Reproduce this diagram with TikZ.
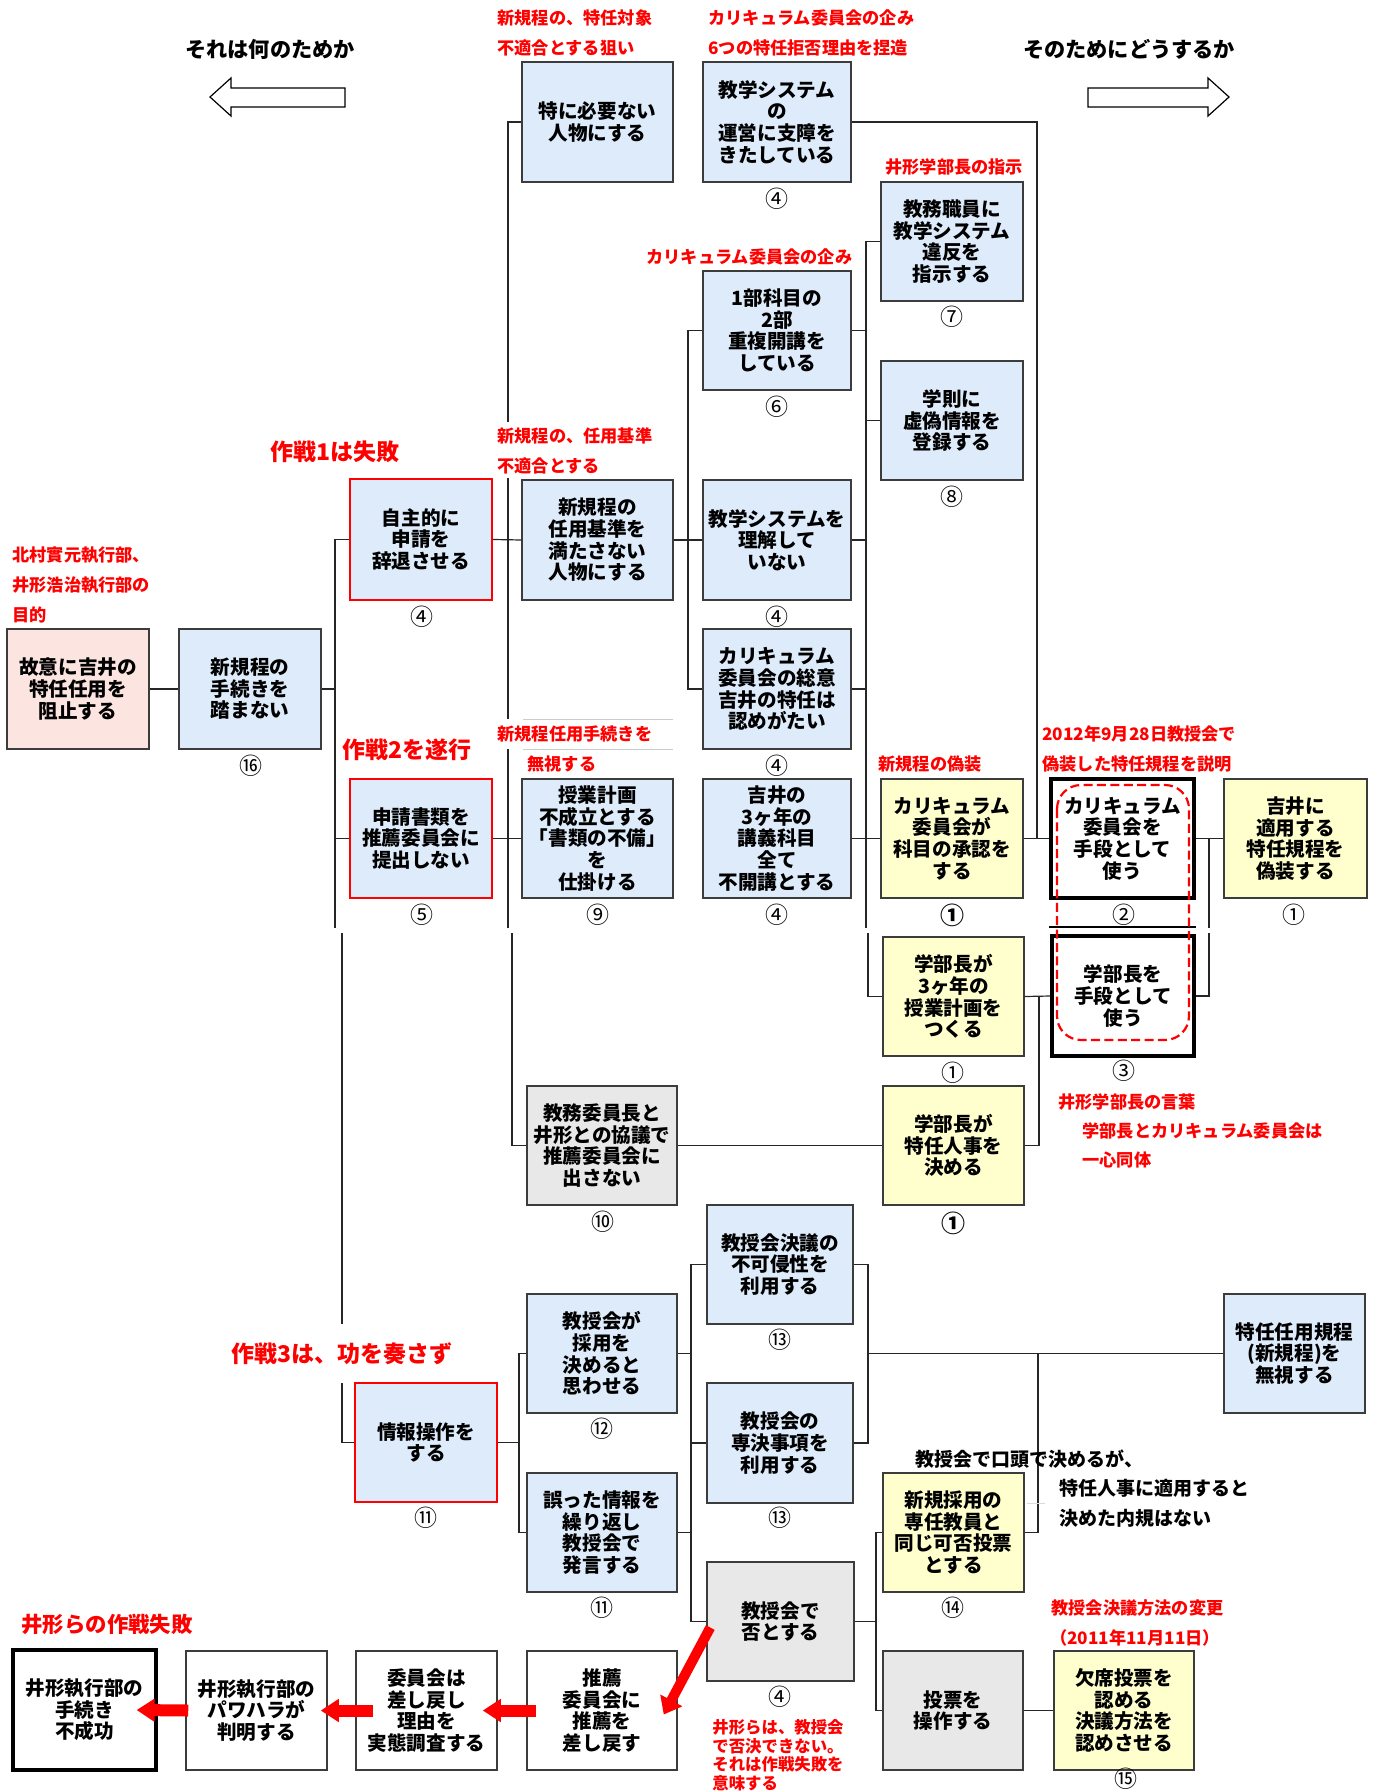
\documentclass[tikz,border=0pt]{standalone}
\usepackage{fontspec}
\setmainfont{Noto Sans CJK JP}
\usetikzlibrary{arrows.meta}
\definecolor{bluefill}{RGB}{221,235,250}
\definecolor{yelfill}{RGB}{255,255,205}
\definecolor{pinkfill}{RGB}{252,228,225}
\definecolor{grayfill}{RGB}{232,232,232}
\definecolor{edgec}{RGB}{60,60,60}
\newcommand\mybox[7]{\node[#1, minimum width={(#5-#3)*0.5pt}, minimum height={(#6-#4)*0.5pt}] (#2) at ({(#3+#5)/2},{(#4+#6)/2}) {#7};}
\tikzset{
  box/.style={draw=edgec, line width=0.75pt, align=center, inner sep=0pt,
    font=\fontsize{9.8}{10.8}\selectfont\bfseries},
  bluebox/.style={box, fill=bluefill},
  redbox/.style={box, fill=bluefill, draw=red, line width=1.2pt},
  yelbox/.style={box, fill=yelfill},
  pinkbox/.style={box, fill=pinkfill},
  graybox/.style={box, fill=grayfill},
  whitebox/.style={box, fill=white},
  thickbox/.style={box, fill=white, draw=black, line width=1.6pt},
  conn/.style={draw=black!85, line width=0.6pt},
  num/.style={inner sep=0pt, font=\fontsize{11.5}{12}\selectfont},
  bnum/.style={inner sep=0pt, font=\fontsize{12}{12}\selectfont\bfseries},
  note/.style={text=red, anchor=west, inner sep=0pt, font=\fontsize{8.6}{9}\selectfont\bfseries},
  title/.style={text=red, inner sep=0pt, font=\fontsize{11.5}{12}\selectfont\bfseries},
  head/.style={inner sep=0pt, font=\fontsize{10.6}{11}\selectfont\bfseries},
  btxt/.style={anchor=west, inner sep=0pt, font=\fontsize{9.5}{10}\selectfont\bfseries},
  redarrow/.style={draw=red, line width=6pt, -{Triangle[length=9pt,width=11pt]}},
}
\begin{document}
\begin{tikzpicture}[x=0.5pt,y=-0.5pt]
\useasboundingbox (0,0) rectangle (1377,1791);

% ---------------- boxes ----------------
\mybox{bluebox}{A}{522}{62}{673}{182}{特に必要ない\\人物にする}
\mybox{bluebox}{B}{703}{62}{851}{182}{教学システム\\の\\運営に支障を\\きたしている}
\mybox{bluebox}{C}{881}{182}{1023}{301}{教務職員に\\教学システム\\違反を\\指示する}
\mybox{bluebox}{D}{703}{271}{851}{390}{1部科目の\\2部\\重複開講を\\している}
\mybox{bluebox}{E}{881}{361}{1023}{480}{学則に\\虚偽情報を\\登録する}
\mybox{redbox}{S}{350}{479}{492}{600}{自主的に\\申請を\\辞退させる}
\mybox{bluebox}{T}{522}{480}{673}{600}{新規程の\\任用基準を\\満たさない\\人物にする}
\mybox{bluebox}{F}{703}{480}{851}{600}{教学システムを\\理解して\\いない}
\mybox{pinkbox}{U}{7}{629}{149}{749}{故意に吉井の\\特任任用を\\阻止する}
\mybox{bluebox}{V}{179}{629}{321}{749}{新規程の\\手続きを\\踏まない}
\mybox{bluebox}{G}{703}{629}{851}{749}{カリキュラム\\委員会の総意\\吉井の特任は\\認めがたい}
\mybox{redbox}{Q}{350}{779}{492}{898}{申請書類を\\推薦委員会に\\提出しない}
\mybox{bluebox}{R}{522}{779}{673}{898}{授業計画\\不成立とする\\「書類の不備」\\を\\仕掛ける}
\mybox{bluebox}{H}{703}{779}{851}{898}{吉井の\\3ヶ年の\\講義科目\\全て\\不開講とする}
\mybox{yelbox}{I}{881}{779}{1023}{898}{カリキュラム\\委員会が\\科目の承認を\\する}
\mybox{thickbox}{J}{1051}{779}{1194}{898}{カリキュラム\\委員会を\\手段として\\使う}
\mybox{yelbox}{K}{1224}{779}{1367}{898}{吉井に\\適用する\\特任規程を\\偽装する}
\mybox{yelbox}{L}{883}{937}{1024}{1056}{学部長が\\3ヶ年の\\授業計画を\\つくる}
\mybox{thickbox}{M}{1052}{936}{1194}{1056}{学部長を\\手段として\\使う}
\mybox{graybox}{O}{527}{1086}{677}{1205}{教務委員長と\\井形との協議で\\推薦委員会に\\出さない}
\mybox{yelbox}{N}{883}{1086}{1024}{1205}{学部長が\\特任人事を\\決める}
\mybox{bluebox}{P}{707}{1205}{853}{1324}{教授会決議の\\不可侵性を\\利用する}
\mybox{bluebox}{X}{527}{1294}{677}{1413}{教授会が\\採用を\\決めると\\思わせる}
\mybox{bluebox}{AA}{1224}{1294}{1365}{1413}{特任任用規程\\(新規程)を\\無視する}
\mybox{redbox}{W}{355}{1383}{497}{1502}{情報操作を\\する}
\mybox{bluebox}{Z}{707}{1383}{853}{1503}{教授会の\\専決事項を\\利用する}
\mybox{bluebox}{Y}{527}{1473}{677}{1592}{誤った情報を\\繰り返し\\教授会で\\発言する}
\mybox{yelbox}{BB}{883}{1473}{1024}{1592}{新規採用の\\専任教員と\\同じ可否投票\\とする}
\mybox{graybox}{CC}{707}{1562}{854}{1681}{教授会で\\否とする}
\mybox{graybox}{DD}{883}{1651}{1023}{1770}{投票を\\操作する}
\mybox{yelbox}{EE}{1054}{1651}{1194}{1770}{欠席投票を\\認める\\決議方法を\\認めさせる}
\mybox{whitebox}{FF}{527}{1651}{677}{1770}{推薦\\委員会に\\推薦を\\差し戻す}
\mybox{whitebox}{GG}{356}{1651}{497}{1770}{委員会は\\差し戻し\\理由を\\実態調査する}
\mybox{whitebox}{HH}{186}{1651}{327}{1770}{井形執行部の\\パワハラが\\判明する}
\mybox{thickbox}{II}{13}{1650}{156}{1770}{井形執行部の\\手続き\\不成功}

% ---------------- bus coordinates ----------------
\coordinate (k1) at (335,0);  \coordinate (k1b) at (342,0);
\coordinate (k2) at (508,0);  \coordinate (k2b) at (512,0);
\coordinate (k3) at (688,0);
\coordinate (k4) at (866,0);  \coordinate (k4b) at (868,0);
\coordinate (k5) at (1037,0);
\coordinate (k6) at (1209,0);
\coordinate (k7) at (1039,0);
\coordinate (k8) at (519,0);
\coordinate (k9) at (691,0);
\coordinate (k10) at (868,0);
\coordinate (k11) at (1038,0);
\coordinate (k12) at (876,0);
\coordinate (brk1) at (0,928); \coordinate (brk2) at (0,933);
\coordinate (ga1) at (0,422); \coordinate (ga2) at (0,478);
\coordinate (gb1) at (0,719); \coordinate (gb2) at (0,749);
\coordinate (gc1) at (0,1324); \coordinate (gc2) at (0,1383);

% ---------------- connectors ----------------
\draw[conn] (U.east) -- (V.west);
\draw[conn] (V.east) -- (V.east -| k1);
\draw[conn] (S.west) -| (k1 |- brk1);
\draw[conn] (Q.west) -- (Q.west -| k1);
\draw[conn] (k1b |- brk2) -- (k1b |- gc1);
\draw[conn] (k1b |- gc2) |- (W.west);

\draw[conn] (A.west) -| (k2 |- ga1);
\draw[conn] (k2 |- ga2) -- (k2 |- gb1);
\draw[conn] (k2 |- gb2) -- (k2 |- brk1);
\draw[conn] (S.east) -- (T.west);
\draw[conn] (Q.east) -- (R.west);
\draw[conn] (k2b |- brk2) |- (O.west);

\draw[conn] (T.east) -- (F.west);
\draw[conn] (D.west) -| (k3 |- G.west) -- (G.west);

\draw[conn] (C.west) -| (k4 |- brk1);
\draw[conn] (D.east) -- (D.east -| k4);
\draw[conn] (E.west) -- (E.west -| k4);
\draw[conn] (F.east) -- (F.east -| k4);
\draw[conn] (G.east) -- (G.east -| k4);
\draw[conn] (H.east) -- (I.west);
\draw[conn] (k4b |- brk2) |- (L.west);

\draw[conn] (B.east) -| (k5 |- I.east);
\draw[conn] (I.east) -- (J.west);

\draw[conn] (J.east) -- (K.west);
\draw[conn] (k6 |- J.east) -- (k6 |- brk1);
\draw[conn] (k6 |- brk2) |- (M.east);

\draw[conn] (L.east) -- (M.west);
\draw[conn] (N.east) -| (k7 |- L.east);
\draw[conn] (O.east) -- (N.west);

\draw[conn] (W.east) -- (W.east -| k8);
\draw[conn] (X.west) -| (k8 |- Y.west) -- (Y.west);

\draw[conn] (P.west) -| (k9 |- CC.west) -- (CC.west);
\draw[conn] (X.east) -- (X.east -| k9);
\draw[conn] (Z.west) -- (Z.west -| k9);
\draw[conn] (Y.east) -- (Y.east -| k9);

\draw[conn] (P.east) -| (k10 |- Z.east) -- (Z.east);
\draw[conn] (k10 |- AA.west) -- (AA.west);
\draw[conn] (k11 |- AA.west) |- (BB.east);

\draw[conn] (BB.west) -| (k12 |- DD.west) -- (DD.west);
\draw[conn] (CC.east) -- (CC.east -| k12);
\draw[conn] (DD.east) -- (EE.west);

% page-join line and faint rules
\draw[black, line width=0.6pt] (J.south west |- 0,927) -- (1196,927);
\draw[black!20, line width=0.5pt] (523,719) -- (673,719) (523,749) -- (673,749);
\draw[black!15, line width=0.5pt] (1027,1503) -- (1045,1503);

% red dashed grouping
\draw[red, dash pattern=on 4.5pt off 2.2pt, line width=1.1pt, rounded corners=12pt] (1057,785) rectangle (1189,1040);

% red arrows
\draw[redarrow] ([xshift=5pt]FF.west) -- ([xshift=-7.5pt]GG.east);
\draw[redarrow] ([xshift=9pt]GG.west) -- ([xshift=-3.5pt]HH.east);
\draw[redarrow] ([xshift=1.5pt]HH.west) -- ([xshift=-10.5pt]II.east);
\draw[draw=red, line width=5pt, -{Triangle[length=8pt,width=12pt]}] ([xshift=2pt,yshift=-3pt]CC.west) -- ([xshift=-7pt,yshift=-2pt]FF.east);

% hollow header arrows
\draw[line width=0.6pt, fill=white] (345,88) -- (231,88) -- (231,78) -- (210,97) -- (231,116) -- (231,107) -- (345,107) -- cycle;
\draw[line width=0.6pt, fill=white] (1088,88) -- (1208,88) -- (1208,78) -- (1229,97) -- (1208,116) -- (1208,107) -- (1088,107) -- cycle;

% ---------------- headings ----------------
\node[head] (h1) at (270,49) {それは何のためか};
\node[head] (h2) at (1129,49) {そのためにどうするか};

% ---------------- red notes ----------------
\node[note] (n1) at (497,18) {新規程の、特任対象};
\node[note] (n2) at (497,48) {不適合とする狙い};
\node[note] (n3) at (708,18) {カリキュラム委員会の企み};
\node[note] (n4) at (708,48) {6つの特任拒否理由を捏造};
\node[note] (n5) at (885,167) {井形学部長の指示};
\node[note] (n6) at (646,257) {カリキュラム委員会の企み};
\node[note] (n7) at (497,436) {新規程の、任用基準};
\node[note] (n8) at (497,466) {不適合とする};
\node[note] (n9) at (12,555) {北村實元執行部、};
\node[note] (n10) at (12,585) {井形浩治執行部の};
\node[note] (n11) at (12,615) {目的};
\node[note] (n12) at (497,734) {新規程任用手続きを};
\node[note] (n13) at (527,764) {無視する};
\node[note] (n14) at (878,764) {新規程の偽装};
\node[note] (n15) at (1042,734) {2012年9月28日教授会で};
\node[note] (n16) at (1042,764) {偽装した特任規程を説明};
\node[note] (n17) at (1058,1102) {井形学部長の言葉};
\node[note] (n18) at (1082,1131) {学部長とカリキュラム委員会は};
\node[note] (n19) at (1082,1160) {一心同体};
\node[note] (n20) at (1051,1608) {教授会決議方法の変更};
\node[note, anchor=center] (n21) at (1135,1638) {（2011年11月11日）};
\node[note, align=left, anchor=north west, font=\fontsize{8.2}{9.3}\selectfont\bfseries] (n22) at (712,1719) {井形らは、教授会\\で否決できない。\\それは作戦失敗を\\意味する};

\node[title] (t1) at (335,452) {作戦1は失敗};
\node[title] (t2) at (407,750) {作戦2を遂行};
\node[title] (t3) at (342,1354) {作戦3は、功を奏さず};
\node[title, anchor=west, font=\fontsize{10.7}{11}\selectfont\bfseries] (t4) at (21,1624) {井形らの作戦失敗};

% black notes
\node[btxt] (m1) at (915,1459) {教授会で口頭で決めるが、};
\node[btxt] (m2) at (1059,1488) {特任人事に適用すると};
\node[btxt] (m3) at (1059,1518) {決めた内規はない};

% ---------------- circled numbers ----------------
\node[num] (c1) at (777,199) {④};
\node[num] (c2) at (952,317) {⑦};
\node[num] (c3) at (777,407) {⑥};
\node[num] (c4) at (952,497) {⑧};
\node[num] (c5) at (422,617) {④};
\node[num] (c6) at (777,617) {④};
\node[num] (c7) at (251,766) {⑯};
\node[num] (c8) at (777,766) {④};
\node[num] (c9) at (422,915) {⑤};
\node[num] (c10) at (598,915) {⑨};
\node[num] (c11) at (777,915) {④};
\node[bnum] (c12) at (952,915) {①};
\node[num] (c13) at (1124,915) {②};
\node[num] (c14) at (1294,915) {①};
\node[num] (c15) at (953,1073) {①};
\node[num] (c16) at (1124,1071) {③};
\node[num] (c17) at (603,1222) {⑩};
\node[bnum] (c18) at (953,1223) {①};
\node[num] (c19) at (780,1340) {⑬};
\node[num] (c20) at (602,1429) {⑫};
\node[num] (c21) at (426,1518) {⑪};
\node[num] (c22) at (780,1518) {⑬};
\node[num] (c23) at (602,1608) {⑪};
\node[num] (c24) at (953,1608) {⑭};
\node[num] (c25) at (780,1697) {④};
\node[num] (c26) at (1126,1779) {⑮};
\end{tikzpicture}
\end{document}
